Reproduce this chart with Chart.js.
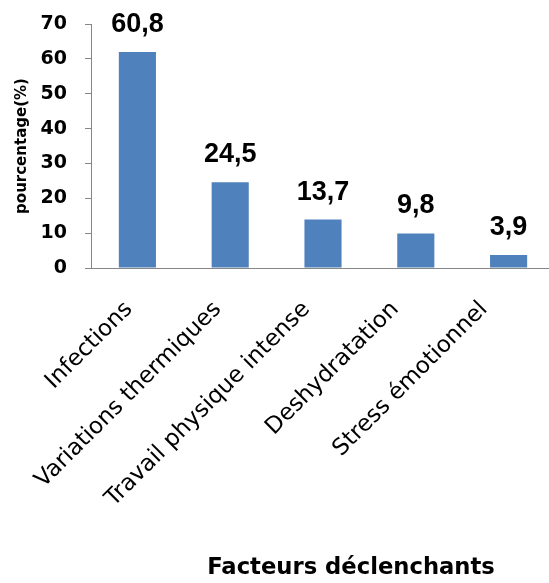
<!DOCTYPE html>
<html>
<head>
<meta charset="utf-8">
<script src="https://cdn.jsdelivr.net/npm/chart.js@4/dist/chart.umd.min.js"></script>
<style>
  html, body { margin: 0; padding: 0; background: #ffffff; overflow: hidden; }
  #wrap { width: 556px; height: 583px; }
</style>
</head>
<body>
<div id="wrap"><canvas id="c" width="556" height="583"></canvas></div>
<script>
// ---- data ----
const categories = ["Infections", "Variations thermiques", "Travail physique intense", "Deshydratation", "Stress émotionnel"];
const barHeights = [62.0, 24.6, 13.9, 9.9, 3.7];          // bar heights as drawn
const valueLabels = ["60,8", "24,5", "13,7", "9,8", "3,9"]; // data labels as printed
const yTicks = [0, 10, 20, 30, 40, 50, 60, 70];
const yTitle = "pourcentage(%)";
const xTitle = "Facteurs déclenchants";

const FONT = "'DejaVu Sans', sans-serif";
const LABEL_FONT = "'Liberation Sans', Arial, sans-serif";
const AXIS = "#868686";

const dataLabelPlugin = {
  id: 'dataLabels',
  afterDatasetsDraw(chart) {
    const ctx = chart.ctx;
    const meta = chart.getDatasetMeta(0);
    ctx.save();
    ctx.font = "bold 27px " + LABEL_FONT;
    ctx.fillStyle = "#000000";
    ctx.textAlign = "center";
    ctx.textBaseline = "alphabetic";
    meta.data.forEach((el, i) => {
      ctx.fillText(valueLabels[i], el.x, el.y - 20);
    });
    ctx.restore();
  }
};

const xTitlePlugin = {
  id: 'xTitle',
  afterDraw(chart) {
    const ctx = chart.ctx;
    ctx.save();
    ctx.font = "bold 22.7px " + FONT;
    ctx.fillStyle = "#000000";
    ctx.textAlign = "center";
    ctx.textBaseline = "alphabetic";
    ctx.fillText(xTitle, 351, 574);
    ctx.restore();
  }
};

new Chart(document.getElementById('c'), {
  type: 'bar',
  data: {
    labels: categories,
    datasets: [{
      data: barHeights,
      backgroundColor: '#4F81BD',
      borderWidth: 0,
      barPercentage: 0.4,
      categoryPercentage: 1.0,
      xAxisID: 'x'
    }]
  },
  options: {
    responsive: false,
    animation: false,
    devicePixelRatio: 1,
    layout: { padding: { top: 24, right: 1, bottom: 0, left: 0 } },
    plugins: {
      legend: { display: false },
      tooltip: { enabled: false },
      title: { display: false }
    },
    scales: {
      x: {
        weight: 0,
        grid: { display: false, drawTicks: false },
        border: { display: true, color: AXIS, width: 1 },
        ticks: { display: false },
        afterFit(scale) { scale.height = 0; }
      },
      xl: {
        type: 'linear',
        position: 'bottom',
        weight: 1,
        offset: false,
        min: -0.428,
        max: 4.80,
        afterBuildTicks(scale) { scale.ticks = categories.map((_, i) => ({ value: i })); },
        grid: { display: false, drawTicks: false, offset: false },
        border: { display: false },
        ticks: {
          color: '#000000',
          font: { family: FONT, size: 23 },
          minRotation: 45,
          maxRotation: 45,
          autoSkip: false,
          padding: 28,
          callback: (v) => categories[v]
        },
        afterFit(scale) { scale.height = 315; }
      },
      y: {
        min: 0,
        max: 70,
        afterBuildTicks(scale) { scale.ticks = yTicks.map(v => ({ value: v })); },
        grid: { display: true, drawOnChartArea: false, drawTicks: true, tickLength: 6, color: AXIS },
        border: { display: true, color: AXIS, width: 1 },
        ticks: {
          color: '#000000',
          font: { family: FONT, size: 19, weight: 'bold' },
          padding: 18
        },
        title: {
          display: true,
          text: yTitle,
          color: '#000000',
          font: { family: FONT, size: 15, weight: 'bold' },
          padding: { top: 13, bottom: 0 }
        },
        afterFit(scale) { scale.width = 91; scale.paddingTop = 0; scale.paddingBottom = 0; }
      }
    }
  },
  plugins: [dataLabelPlugin, xTitlePlugin]
});
</script>
</body>
</html>
